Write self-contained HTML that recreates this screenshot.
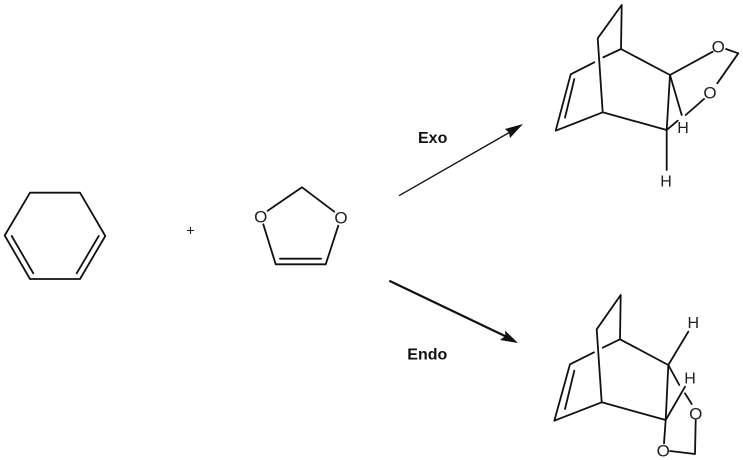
<!DOCTYPE html>
<html>
<head>
<meta charset="utf-8">
<style>
html,body{margin:0;padding:0;background:#fff}
svg{display:block}
.b{fill:none;stroke:#111;stroke-width:1.8;stroke-linecap:round;stroke-linejoin:round}
.a{font-family:"Liberation Sans",sans-serif;font-size:17px;fill:#222;text-anchor:middle}
.h{font-size:16px}
.l{font-family:"Liberation Sans",sans-serif;font-size:16px;font-weight:bold;fill:#111}
</style>
</head>
<body>
<svg width="743" height="460" viewBox="0 0 743 460" xmlns="http://www.w3.org/2000/svg">
<rect width="743" height="460" fill="#fff"/>

<!-- Cyclohexadiene -->
<path class="b" d="M30 192.7H80L105.3 236L80 279H30L4.7 235.5Z"/>
<path class="b" d="M11.7 236L33.3 273.3M98.7 236L76.7 273.3"/>
<text x="190.5" y="235.5" style="font-family:'Liberation Sans',sans-serif;font-size:15px;fill:#222;text-anchor:middle">+</text>

<!-- Dioxole -->
<path class="b" d="M267.7 210.7L302 187.3L334.3 211.7M263.3 224.3L275.7 264.3H325.7L338.3 225.7M280 258.7H321"/>
<text class="a" x="260.7" y="222.7">O</text>
<text class="a" x="341" y="223.7">O</text>

<!-- Exo arrow -->
<path d="M399 195.7L512 131" fill="none" stroke="#111" stroke-width="1.4"/>
<path d="M523 124L505 129L509 132.5L510 138Z" fill="#111"/>
<text class="l" x="418" y="143">Exo</text>

<!-- Endo arrow -->
<path d="M389.3 280.7L507 337" fill="none" stroke="#111" stroke-width="2.2"/>
<path d="M518 343L505 330.5L505.5 336L500 340Z" fill="#111"/>
<text class="l" x="407.3" y="359.3">Endo</text>

<!-- Exo product -->
<path class="b" d="M621.7 5L597.7 38.3L602.7 112.3L666.7 130L670 75L621 49L621.7 5"/>
<path class="b" d="M621 49L603.3 57.3M594.3 62.3L570.7 74.3L555.7 130.7L602.7 112.3M574.3 79L565 117.7"/>
<path class="b" d="M670 75L712.7 51.7M726 49L738.3 53.3L717.3 83.3M704 99L685.7 115M670 75L681.7 115M666.7 130L677.7 120.7M666.7 130V170"/>
<text class="a" x="718.3" y="52.7">O</text>
<text class="a" x="710" y="98.7">O</text>
<text class="a h" x="683" y="133">H</text>
<text class="a h" x="666" y="186.5">H</text>

<!-- Endo product -->
<path class="b" d="M620.7 295L596.7 329.3L601.7 402.3L665.7 420L668.3 365L620 339.3L620.7 295"/>
<path class="b" d="M620 339.3L602.7 347.7M594 352.3L570 364.3L554.3 420.7L601.7 402.3M574.3 370.7L565 409"/>
<path class="b" d="M668.3 365L688.3 331.7M668.3 365L679.3 385M665.7 420L685 386.7M685 393.3L691.7 404M665.7 420L664 443.3M670 451L695 454L695.7 420"/>
<text class="a h" x="693.3" y="328">H</text>
<text class="a h" x="690" y="383.5">H</text>
<text class="a" x="695.7" y="419.3">O</text>
<text class="a" x="663.3" y="456.3">O</text>
</svg>
</body>
</html>
